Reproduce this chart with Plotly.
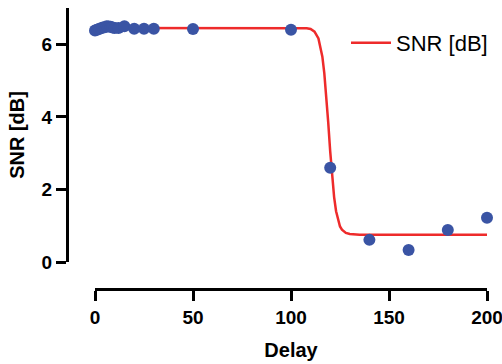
import plotly.graph_objects as go

# Measured data points
delay = [0, 1, 2, 3, 4, 5, 6, 7, 8, 9, 10, 12, 15, 20, 25, 30, 50, 100, 120, 140, 160, 180, 200]
snr = [6.38, 6.40, 6.42, 6.44, 6.46, 6.47, 6.50, 6.49, 6.48, 6.46, 6.45, 6.45, 6.50, 6.43, 6.43, 6.43, 6.42, 6.40, 2.60, 0.61, 0.33, 0.88, 1.22]

# Fitted curve
fit_x = [0, 100, 108, 110, 112, 114, 115, 116, 117, 118, 119, 120, 121, 122, 123, 124, 125, 126, 128, 130, 135, 200]
fit_y = [6.45, 6.45, 6.44, 6.42, 6.35, 6.16, 5.95, 5.66, 5.20, 4.59, 3.84, 3.05, 2.35, 1.79, 1.40, 1.14, 0.98, 0.89, 0.80, 0.77, 0.75, 0.75]

x_ticks = [0, 50, 100, 150, 200]
y_ticks = [0, 2, 4, 6]

FONT = "Arial, Liberation Sans, sans-serif"

fig = go.Figure()
fig.add_trace(go.Scatter(
    x=fit_x, y=fit_y, mode="lines", name="SNR [dB]",
    line=dict(color="#ee2b2b", width=2.5), cliponaxis=False,
))
fig.add_trace(go.Scatter(
    x=delay, y=snr, mode="markers", showlegend=False,
    marker=dict(color="#3a54a4", size=12, line=dict(width=0)), cliponaxis=False,
))

L, T, R, B = 67, 8, 15, 75
W, H = 502, 364
pw = W - L - R
ph = H - T - B

fig.update_layout(
    width=W, height=H,
    margin=dict(l=L, r=R, t=T, b=B, pad=0, autoexpand=False),
    plot_bgcolor="white", paper_bgcolor="white",
    font=dict(family=FONT, color="black"),
    showlegend=True,
    legend=dict(
        x=(346 - L) / pw, y=1 - (22 - T) / ph, xanchor="left", yanchor="top",
        font=dict(family=FONT, size=22, color="black"),
        bgcolor="rgba(0,0,0,0)", itemwidth=40,
    ),
    xaxis=dict(
        domain=[(95 - L) / pw, 1], range=[0, 200], anchor="free", position=0,
        showline=True, linecolor="black", linewidth=3,
        ticks="outside", ticklen=10, tickwidth=3, tickcolor="black",
        tickvals=x_ticks, ticktext=[f"<b>{v}</b>" for v in x_ticks],
        tickfont=dict(family=FONT, size=19, color="black"),
        ticklabeloverflow="allow", automargin=False,
        showgrid=False, zeroline=False,
        title=dict(text="<b>Delay</b>", font=dict(family=FONT, size=20, color="black"), standoff=16),
    ),
    yaxis=dict(
        domain=[(289 - 262) / ph, 1], range=[0, 7], anchor="free", position=0,
        showline=True, linecolor="black", linewidth=3,
        ticks="outside", ticklen=10, tickwidth=3, tickcolor="black",
        tickvals=y_ticks, ticktext=[f"<b>{v}</b>" for v in y_ticks],
        tickfont=dict(family=FONT, size=19, color="black"),
        automargin=False,
        showgrid=False, zeroline=False,
        title=dict(text="<b>SNR [dB]</b>", font=dict(family=FONT, size=20, color="black"), standoff=10),
    ),
)

fig.write_html("out.html")
